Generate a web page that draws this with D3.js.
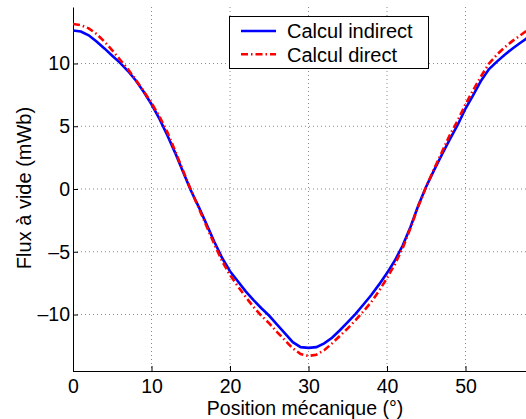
<!DOCTYPE html>
<meta charset="utf-8">
<head>
    <script src="https://d3js.org/d3.v7.min.js"></script>
    <style>
        body { margin: 0; background: white; }
        text { font-family: "Liberation Sans", Arial, sans-serif; }
    </style>
</head>
<body>
<div id="my_dataviz"></div>
<script>
    // mechanical position (degrees)
    const positions = [0, 1, 2, 3, 4, 5, 6, 7, 8, 9, 10, 11, 12, 13, 14, 15, 16, 17, 18, 19,
        20, 21, 22, 23, 24, 25, 26, 27, 28, 29, 30, 31, 32, 33, 34, 35, 36, 37, 38, 39,
        40, 41, 42, 43, 44, 45, 46, 47, 48, 49, 50, 51, 52, 53, 54, 55, 56, 57, 58];

    // no-load flux (mWb), indirect computation
    const fluxIndirect = [12.63, 12.55, 12.25, 11.75, 11.2, 10.62, 10.05, 9.4, 8.65, 7.75,
        6.75, 5.6, 4.3, 2.9, 1.4, -0.1, -1.4, -2.8, -4.2, -5.5,
        -6.55, -7.35, -8.15, -8.85, -9.5, -10.1, -10.8, -11.5, -12.2, -12.6,
        -12.66, -12.6, -12.3, -11.85, -11.25, -10.6, -9.95, -9.2, -8.45, -7.6,
        -6.7, -5.7, -4.5, -3.0, -1.3, 0.2, 1.5, 2.75, 3.95, 5.1,
        6.4, 7.5, 8.65, 9.55, 10.15, 10.7, 11.2, 11.65, 12.1];

    // no-load flux (mWb), direct computation
    const fluxDirect = [13.15, 13.05, 12.8, 12.35, 11.75, 11.05, 10.3, 9.55, 8.7, 7.8,
        6.85, 5.8, 4.55, 3.05, 1.5, -0.05, -1.5, -2.95, -4.4, -5.75,
        -6.85, -7.75, -8.6, -9.4, -10.1, -10.7, -11.4, -12.05, -12.7, -13.15,
        -13.3, -13.2, -12.85, -12.3, -11.7, -11.1, -10.45, -9.75, -9.0, -8.1,
        -7.1, -6.0, -4.7, -3.1, -1.35, 0.2, 1.6, 2.95, 4.3, 5.45,
        6.75, 7.9, 9.0, 10.0, 10.7, 11.3, 11.8, 12.25, 12.7];

    const xTicks = [0, 10, 20, 30, 40, 50];
    const yTicks = [-10, -5, 0, 5, 10];

    const legendData = [
        { label: "Calcul indirect", color: "blue", dash: null, values: fluxIndirect },
        { label: "Calcul direct", color: "red", dash: "7,3,1.5,3", values: fluxDirect }
    ];

    const width = 526, height = 419;
    const plotLeft = 73, plotRight = 526, plotTop = 7, plotBottom = 371;
    const fontSize = 19.5;

    const svg = d3.select("#my_dataviz").append("svg")
        .attr("width", width)
        .attr("height", height)
        .style("background-color", "white");

    const x = d3.scaleLinear()
        .domain([0, 60])
        .range([plotLeft, plotLeft + 6 * 78.5]);

    const y = d3.scaleLinear()
        .domain([-14.5, 14.5])
        .range([plotBottom, plotTop]);

    // grid
    svg.append("g")
        .selectAll("line")
        .data(xTicks.filter(d => d > 0))
        .enter()
        .append("line")
        .attr("x1", d => x(d)).attr("x2", d => x(d))
        .attr("y1", plotTop).attr("y2", plotBottom)
        .attr("stroke", "#8a8a8a")
        .attr("stroke-dasharray", "1,3");

    svg.append("g")
        .selectAll("line")
        .data(yTicks)
        .enter()
        .append("line")
        .attr("x1", plotLeft).attr("x2", plotRight)
        .attr("y1", d => y(d)).attr("y2", d => y(d))
        .attr("stroke", "#8a8a8a")
        .attr("stroke-dasharray", "1,3");

    // axes
    const bottomAxis = d3.axisBottom(x)
        .tickValues(xTicks)
        .tickSizeInner(-5)
        .tickSizeOuter(0);

    const xg = svg.append("g")
        .attr("transform", `translate(0, ${plotBottom})`)
        .call(bottomAxis);
    xg.select(".domain").attr("d", `M${plotLeft},0.5H${plotRight}`);
    xg.selectAll(".tick text").attr("y", 21.5).attr("dy", null);

    const leftAxis = d3.axisLeft(y)
        .tickValues(yTicks)
        .tickSizeInner(-5)
        .tickSizeOuter(0)
        .tickPadding(3)
        .tickFormat(d => d < 0 ? "\u2013" + Math.abs(d) : d);

    svg.append("g")
        .attr("transform", `translate(${plotLeft}, 0)`)
        .call(leftAxis);

    svg.selectAll(".tick text")
        .attr("font-size", fontSize)
        .attr("fill", "black")
        .style("font-family", "'Liberation Sans', Arial, sans-serif");
    svg.selectAll(".domain, .tick line").attr("stroke", "black");

    // curves
    svg.append("clipPath").attr("id", "clip")
        .append("rect")
        .attr("x", plotLeft).attr("y", plotTop)
        .attr("width", plotRight - plotLeft).attr("height", plotBottom - plotTop);

    const line = d3.line()
        .x((d, i) => x(positions[i]))
        .y(d => y(d));

    svg.append("g")
        .attr("clip-path", "url(#clip)")
        .selectAll("path")
        .data(legendData)
        .enter()
        .append("path")
        .attr("d", d => line(d.values))
        .attr("fill", "none")
        .attr("stroke", d => d.color)
        .attr("stroke-width", 2.6)
        .attr("stroke-dasharray", d => d.dash);

    // legend
    const legend = svg.append("g").attr("class", "legend");

    legend.append("rect")
        .attr("x", 229.5).attr("y", 16.5)
        .attr("width", 199).attr("height", 52)
        .attr("fill", "white")
        .attr("stroke", "black");

    legend.selectAll("line")
        .data(legendData)
        .enter()
        .append("line")
        .attr("x1", 241).attr("x2", 276)
        .attr("y1", (d, i) => 31 + i * 23.3)
        .attr("y2", (d, i) => 31 + i * 23.3)
        .attr("stroke", d => d.color)
        .attr("stroke-width", 2.6)
        .attr("stroke-dasharray", d => d.dash);

    legend.selectAll("text")
        .data(legendData)
        .enter()
        .append("text")
        .attr("x", 287)
        .attr("y", (d, i) => 38 + i * 23.5)
        .attr("font-size", 20)
        .text(d => d.label);

    // axis labels
    svg.append("text")
        .attr("x", 305)
        .attr("y", 414.5)
        .attr("text-anchor", "middle")
        .attr("font-size", fontSize)
        .text("Position mécanique (°)");

    svg.append("text")
        .attr("transform", `translate(30.5, 188) rotate(-90)`)
        .attr("text-anchor", "middle")
        .attr("font-size", 20)
        .text("Flux à vide (mWb)");
</script>
</body>
